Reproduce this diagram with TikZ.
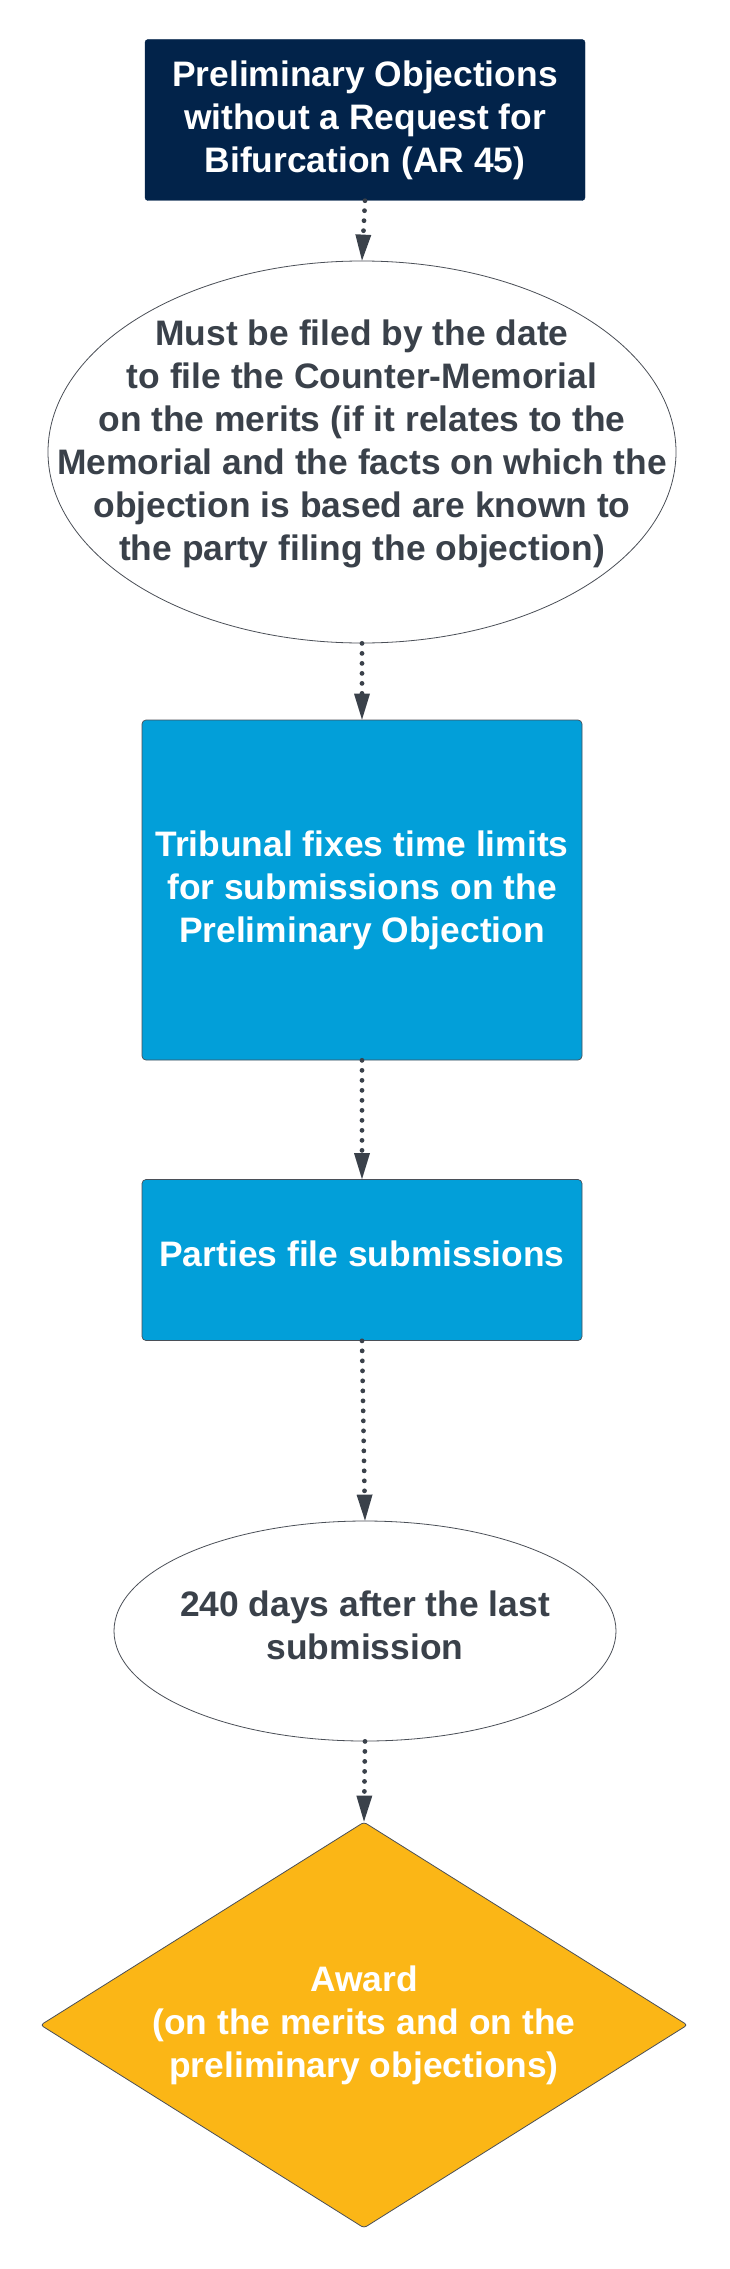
\documentclass[tikz,border=0pt]{standalone}
\usepackage{fontspec}
\setmainfont{Liberation Sans}
\usetikzlibrary{shapes.geometric,arrows.meta}
\definecolor{navy}{HTML}{02234A}
\definecolor{boxblue}{HTML}{029FD9}
\definecolor{gold}{HTML}{FBB616}
\definecolor{darktext}{HTML}{3A414A}
\definecolor{edge}{HTML}{4A4F57}
\tikzset{
  every node/.style={font=\fontsize{35.4}{43}\selectfont\bfseries, align=center},
  navybox/.style={rectangle, rounded corners=3pt, fill=navy, draw=navy, text=white, minimum width=440pt, minimum height=161pt, inner sep=0pt},
  bluebox/.style={rectangle, rounded corners=4pt, fill=boxblue, draw=edge, line width=0.7pt, text=white, minimum width=440pt, inner sep=0pt},
  oval/.style={ellipse, draw=edge, line width=0.8pt, fill=white, inner sep=0pt},
  decision/.style={diamond, shape aspect=1.59, fill=gold, draw=edge, line width=0.8pt, rounded corners=3pt, inner sep=0pt, text=white, minimum width=647pt, minimum height=406pt},
  flow/.style={draw=darktext, line width=4.8pt, line cap=round, dash pattern=on 0pt off 10pt, -{Triangle[width=16pt,length=26pt,line width=0pt]}, color=darktext},
}
\begin{document}
\begin{tikzpicture}[x=1pt,y=-1pt]
\useasboundingbox (0,0) rectangle (730,2269);
\fill[white] (0,0) rectangle (730,2269);
\node[navybox] (start) at (365,120) {Preliminary Objections\\without a Request for\\Bifurcation (AR 45)};
\node[oval, minimum width=628pt, minimum height=382pt] (filed) at (362,452) {};
\node[text=darktext] (filedtxt) at (362,444) {Must be filed by the date\\to file the Counter-Memorial\\on the merits (if it relates to the\\Memorial and the facts on which the\\objection is based are known to\\the party filing the objection)};
\node[bluebox, minimum height=340pt] (limits) at (362,890) {Tribunal fixes time limits\\for submissions on the\\Preliminary Objection};
\node[bluebox, minimum height=161pt] (parties) at (362,1260) {};
\node[text=white] (partiestxt) at (362,1254) {Parties file submissions};
\node[oval, minimum width=502pt, minimum height=220pt] (days) at (365,1631) {};
\node[text=darktext] (daystxt) at (365,1625) {240 days after the last\\submission};
\node[decision] (award) at (364,2025) {Award\\(on the merits and on the\\preliminary objections)};
\draw[flow] (start.south) -- (filed.north);
\draw[flow] (filed.south) -- (limits.north);
\draw[flow] (limits.south) -- (parties.north);
\draw[flow] (parties.south) -- (days.north);
\draw[flow] (days.south) -- (award.north);
\end{tikzpicture}
\end{document}
